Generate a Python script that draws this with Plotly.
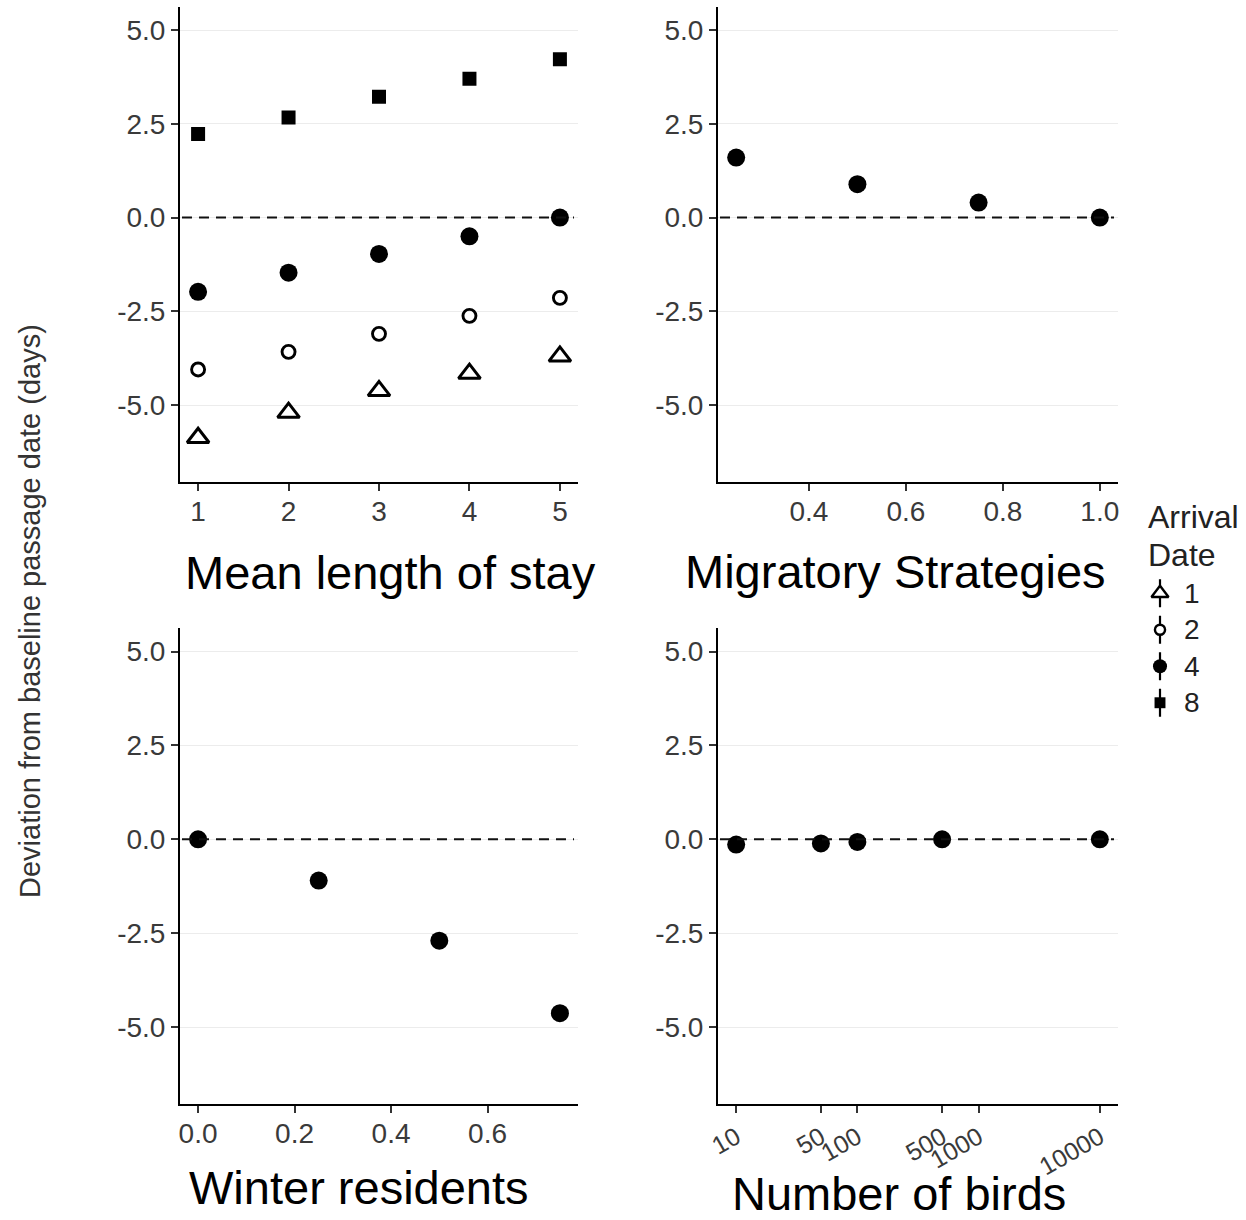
import plotly.graph_objects as go

# ---- data -------------------------------------------------------------
stay_days = [1, 2, 3, 4, 5]
stay_arrival_1 = [-5.87, -5.20, -4.62, -4.16, -3.70]
stay_arrival_2 = [-4.05, -3.58, -3.10, -2.62, -2.14]
stay_arrival_4 = [-1.98, -1.47, -0.97, -0.50, 0.00]
stay_arrival_8 = [2.23, 2.67, 3.22, 3.70, 4.22]

strategy_share = [0.25, 0.50, 0.75, 1.00]
strategy_dev = [1.60, 0.89, 0.40, 0.00]

resident_share = [0.00, 0.25, 0.50, 0.75]
resident_dev = [0.00, -1.10, -2.70, -4.63]

bird_counts = [10, 50, 100, 500, 10000]
bird_dev = [-0.14, -0.11, -0.07, 0.00, 0.00]

arrival_levels = ["1", "2", "4", "8"]

y_ticks = [-5.0, -2.5, 0.0, 2.5, 5.0]
y_tick_text = ["-5.0", "-2.5", "0.0", "2.5", "5.0"]
stay_ticks = [1, 2, 3, 4, 5]
strategy_ticks = [0.4, 0.6, 0.8, 1.0]
strategy_tick_text = ["0.4", "0.6", "0.8", "1.0"]
resident_ticks = [0.0, 0.2, 0.4, 0.6]
resident_tick_text = ["0.0", "0.2", "0.4", "0.6"]
bird_ticks = [10, 50, 100, 500, 1000, 10000]
bird_tick_text = ["10", "50", "100", "500", "1000", "10000"]

panel_titles = ["Mean length of stay", "Migratory Strategies",
                "Winter residents", "Number of birds"]
y_title = "Deviation from baseline passage date (days)"
legend_title = ["Arrival", "Date"]

# ---- page geometry (pixels) --------------------------------------------
W, H = 1246, 1220
FONT = "Liberation Sans, Arial, sans-serif"


def fx(p):
    return p / W


def fy(p):
    return 1 - p / H


left_col = [fx(180), fx(578)]
right_col = [fx(718), fx(1118)]
top_row = [fy(482), fy(6.8)]
bottom_row = [fy(1104), fy(628.3)]
y_range = [-7.05, 5.62]

# marker styles for each arrival level
styles = {
    "1": dict(symbol="triangle-up-open", size=19, color="black",
              line=dict(color="black", width=3)),
    "2": dict(symbol="circle-open", size=13, color="black",
              line=dict(color="black", width=2.9)),
    "4": dict(symbol="circle", size=18, color="black",
              line=dict(color="black", width=0)),
    "8": dict(symbol="square", size=14, color="black",
              line=dict(color="black", width=0)),
}

fig = go.Figure()

# Mean length of stay panel
for level, series in zip(arrival_levels,
                         [stay_arrival_1, stay_arrival_2, stay_arrival_4, stay_arrival_8]):
    fig.add_trace(go.Scatter(x=stay_days, y=series, mode="markers",
                             marker=styles[level], xaxis="x", yaxis="y",
                             showlegend=False, hoverinfo="x+y"))

# Migratory strategies panel
fig.add_trace(go.Scatter(x=strategy_share, y=strategy_dev, mode="markers",
                         marker=styles["4"], xaxis="x2", yaxis="y2",
                         showlegend=False))

# Winter residents panel
fig.add_trace(go.Scatter(x=resident_share, y=resident_dev, mode="markers",
                         marker=styles["4"], xaxis="x3", yaxis="y3",
                         showlegend=False))

# Number of birds panel
fig.add_trace(go.Scatter(x=bird_counts, y=bird_dev, mode="markers",
                         marker=styles["4"], xaxis="x4", yaxis="y4",
                         showlegend=False))

# Legend keys (pointrange style: short vertical stroke with the symbol on top)
key_pos = list(range(len(arrival_levels)))
fig.add_trace(go.Scatter(x=[0] * len(key_pos), y=key_pos, mode="markers",
                         marker=dict(symbol="line-ns", size=20,
                                     line=dict(color="black", width=2.2)),
                         xaxis="x5", yaxis="y5", showlegend=False,
                         hoverinfo="skip"))
for i, level in enumerate(arrival_levels):
    st = dict(styles[level])
    st["size"] = st["size"] * 0.78
    if level in ("1", "2"):
        st = dict(st, color="white")
        st["symbol"] = st["symbol"].replace("-open", "")
        st["line"] = dict(color="black", width=2.4)
    fig.add_trace(go.Scatter(x=[0], y=[i], mode="markers", marker=st,
                             xaxis="x5", yaxis="y5", showlegend=False,
                             hoverinfo="skip"))

# ---- axes ----------------------------------------------------------------
tick_font = dict(family=FONT, size=28, color="#3a3a3a")


def x_axis(domain, rng, ticks, text=None, anchor="y", log=False, angle=0,
           size=28, standoff=-4):
    ax = dict(domain=domain, range=rng, anchor=anchor, automargin=False,
              tickmode="array", tickvals=ticks,
              showline=True, linecolor="black", linewidth=2,
              ticks="outside", ticklen=7, tickwidth=2, tickcolor="#333333",
              ticklabelstandoff=standoff,
              showgrid=False, zeroline=False,
              tickfont=dict(tick_font, size=size),
              tickangle=angle, fixedrange=True)
    if text is not None:
        ax["ticktext"] = text
    if log:
        ax["type"] = "log"
    return ax


def y_axis(domain, anchor):
    return dict(domain=domain, range=y_range, anchor=anchor, automargin=False,
                tickmode="array", tickvals=y_ticks, ticktext=y_tick_text,
                showline=True, linecolor="black", linewidth=2,
                ticks="outside", ticklen=7, tickwidth=2, tickcolor="#333333",
                showgrid=True, gridcolor="#ececec", gridwidth=1.2,
                zeroline=False, tickfont=tick_font, fixedrange=True)


layout = dict(
    width=W, height=H,
    margin=dict(l=0, r=0, t=0, b=0, autoexpand=False),
    paper_bgcolor="white", plot_bgcolor="white",
    showlegend=False,
    font=dict(family=FONT, color="black"),
    xaxis=x_axis(left_col, [0.8, 5.2], stay_ticks, anchor="y"),
    yaxis=y_axis(top_row, "x"),
    xaxis2=x_axis(right_col, [0.2125, 1.0375], strategy_ticks,
                  strategy_tick_text, anchor="y2"),
    yaxis2=y_axis(top_row, "x2"),
    xaxis3=x_axis(left_col, [-0.0375, 0.7875], resident_ticks,
                  resident_tick_text, anchor="y3"),
    yaxis3=y_axis(bottom_row, "x3"),
    xaxis4=x_axis(right_col, [0.85, 4.15], bird_ticks, bird_tick_text,
                  anchor="y4", log=True, angle=-30, size=25, standoff=0),
    yaxis4=y_axis(bottom_row, "x4"),
    xaxis5=dict(domain=[fx(1140), fx(1180)], range=[-1, 1], anchor="y5",
                visible=False, fixedrange=True, automargin=False),
    yaxis5=dict(domain=[fy(721), fy(575)], range=[3.5, -0.5], anchor="x5",
                visible=False, fixedrange=True, automargin=False),
)
fig.update_layout(**layout)

# dashed reference line at zero deviation in every panel
for xr, yr in [("x", "y"), ("x2", "y2"), ("x3", "y3"), ("x4", "y4")]:
    fig.add_shape(type="line", xref=f"{xr} domain", yref=yr,
                  x0=0.005, x1=0.99, y0=0, y1=0,
                  line=dict(color="#111111", width=2, dash="10px,7px"))

# panel titles under each x axis
title_font = dict(family=FONT, size=47, color="black")
for text, (cx, cy) in zip(panel_titles,
                          [(390, 573), (895, 572), (359, 1187), (899, 1193)]):
    fig.add_annotation(text=text, x=fx(cx), y=fy(cy), xref="paper",
                       yref="paper", xanchor="center", yanchor="middle",
                       showarrow=False, font=title_font)

# shared y-axis title
fig.add_annotation(text=y_title, x=fx(30), y=fy(611), xref="paper",
                   yref="paper", xanchor="center", yanchor="middle",
                   textangle=-90, showarrow=False,
                   font=dict(family=FONT, size=29, color="#333333"))

# legend title and key labels
legend_font = dict(family=FONT, size=32, color="#222222")
for line, cy in zip(legend_title, [517, 555]):
    fig.add_annotation(text=line, x=fx(1146), y=fy(cy), xref="paper",
                       yref="paper", xanchor="left", yanchor="middle",
                       showarrow=False, font=legend_font)
for i, level in enumerate(arrival_levels):
    fig.add_annotation(text=level, x=0, y=i, xref="x5", yref="y5",
                       xanchor="left", yanchor="middle", xshift=22,
                       showarrow=False, font=dict(family=FONT, size=28,
                                                  color="#222222"))

fig.write_html("out.html")
